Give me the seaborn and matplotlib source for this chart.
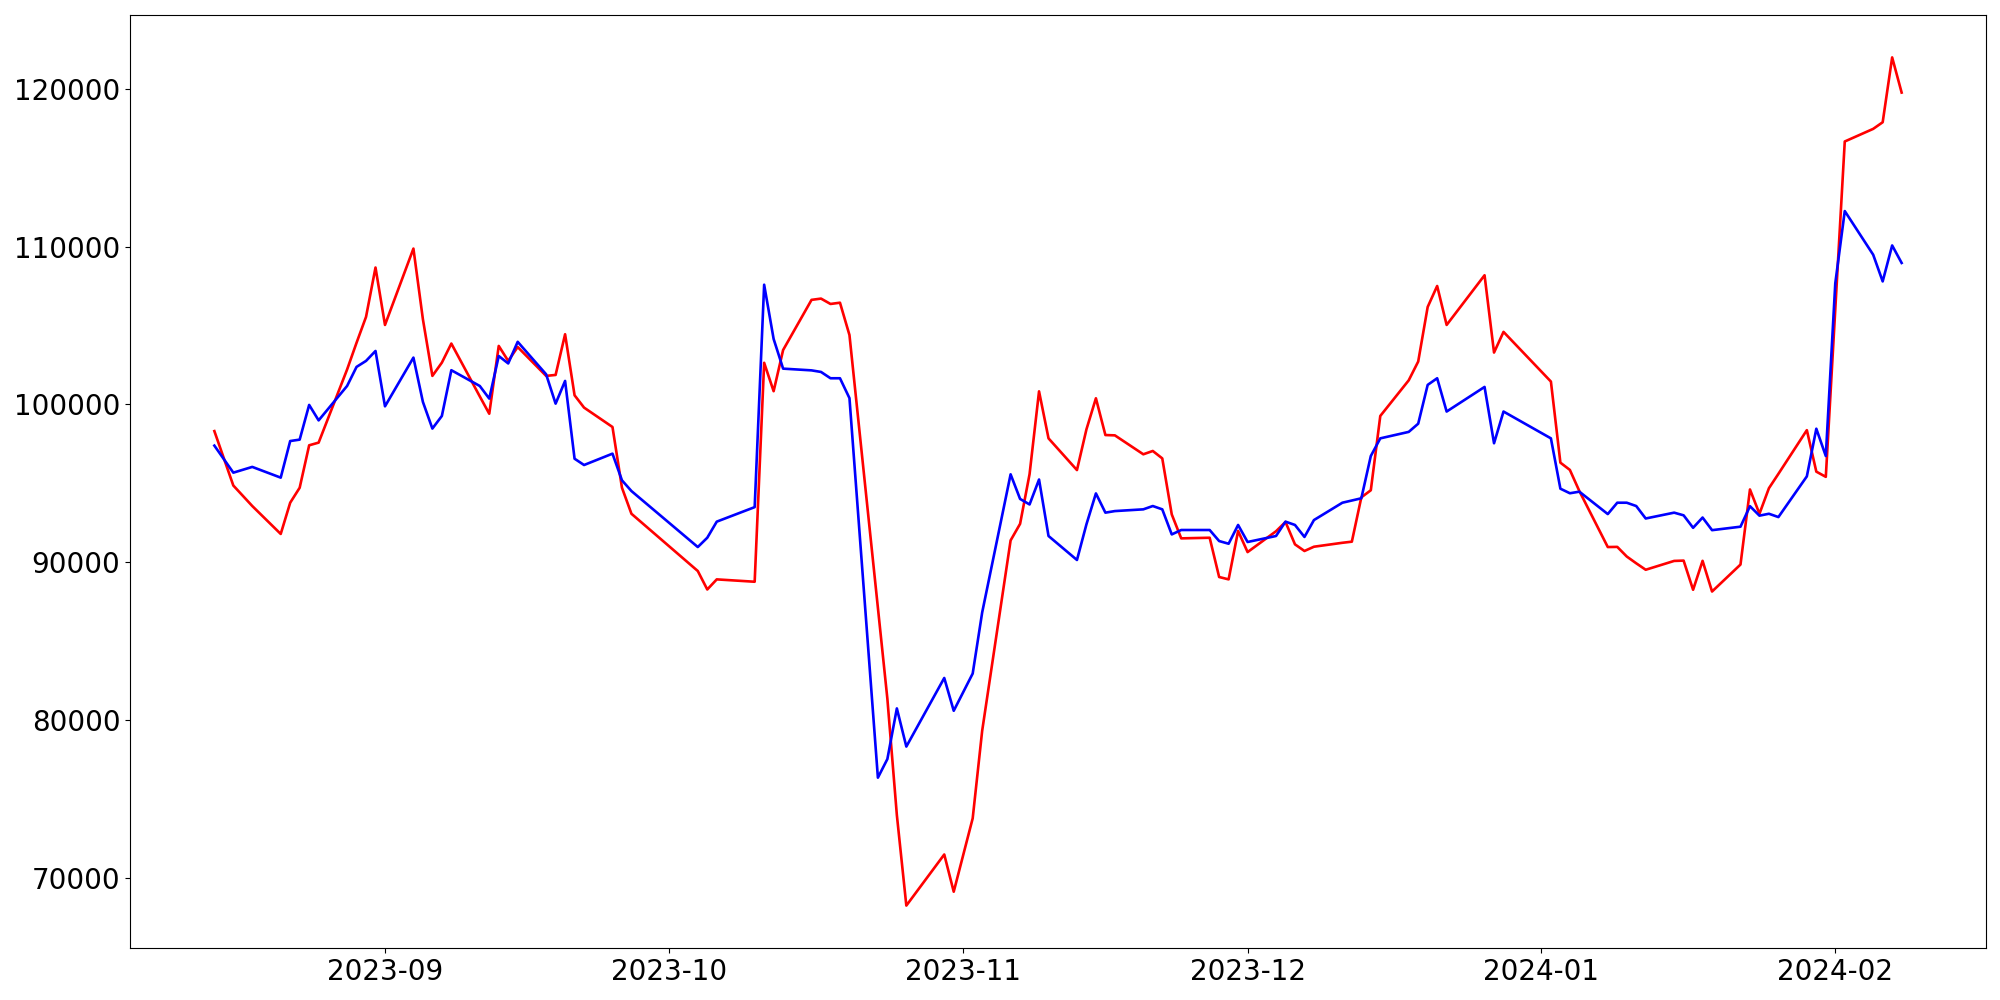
import matplotlib
matplotlib.use("Agg")
import matplotlib.pyplot as plt
import seaborn as sns
import pandas as pd

dates = [
    "2023-08-14", "2023-08-16", "2023-08-18", "2023-08-21", "2023-08-22", "2023-08-23",
    "2023-08-24", "2023-08-25", "2023-08-28", "2023-08-29", "2023-08-30", "2023-08-31",
    "2023-09-01", "2023-09-04", "2023-09-05", "2023-09-06", "2023-09-07", "2023-09-08",
    "2023-09-11", "2023-09-12", "2023-09-13", "2023-09-14", "2023-09-15", "2023-09-18",
    "2023-09-19", "2023-09-20", "2023-09-21", "2023-09-22", "2023-09-25", "2023-09-26",
    "2023-09-27",
    "2023-10-04", "2023-10-05", "2023-10-06", "2023-10-10", "2023-10-11", "2023-10-12",
    "2023-10-13", "2023-10-16", "2023-10-17", "2023-10-18", "2023-10-19", "2023-10-20",
    "2023-10-23", "2023-10-24", "2023-10-25", "2023-10-26", "2023-10-30", "2023-10-31",
    "2023-11-02", "2023-11-03", "2023-11-06", "2023-11-07", "2023-11-08", "2023-11-09",
    "2023-11-10", "2023-11-13", "2023-11-14", "2023-11-15", "2023-11-16", "2023-11-17",
    "2023-11-20", "2023-11-21", "2023-11-22", "2023-11-23", "2023-11-24", "2023-11-27",
    "2023-11-28", "2023-11-29", "2023-11-30",
    "2023-12-01", "2023-12-04", "2023-12-05", "2023-12-06", "2023-12-07", "2023-12-08",
    "2023-12-11", "2023-12-12", "2023-12-13", "2023-12-14", "2023-12-15", "2023-12-18",
    "2023-12-19", "2023-12-20", "2023-12-21", "2023-12-22", "2023-12-26", "2023-12-27",
    "2023-12-28",
    "2024-01-02", "2024-01-03", "2024-01-04", "2024-01-05", "2024-01-08", "2024-01-09",
    "2024-01-10", "2024-01-11", "2024-01-12", "2024-01-15", "2024-01-16", "2024-01-17",
    "2024-01-18", "2024-01-19", "2024-01-22", "2024-01-23", "2024-01-24", "2024-01-25",
    "2024-01-26", "2024-01-29", "2024-01-30", "2024-01-31",
    "2024-02-01", "2024-02-02", "2024-02-05", "2024-02-06", "2024-02-07", "2024-02-08",
]

red_values = [
    98300, 94850, 93550, 91780, 93760, 94710, 97400, 97570, 102200, 103900, 105540, 108670,
    105030, 109870, 105390, 101800, 102640, 103850, 100500, 99400, 103700, 102750, 103630,
    101800, 101860, 104440, 100570, 99790, 98560, 94710, 93060,
    89430, 88260, 88900, 88750, 102630, 100830, 103440, 106620, 106700, 106360, 106440,
    104390, 87100, 81330, 73960, 68220, 71460, 69100,
    73750, 79300, 91370, 92420, 95570, 100820, 97840, 95830, 98410, 100380, 98050, 98030,
    96830, 97040, 96570, 93020, 91500, 91540, 89050, 88900, 91970,
    90630, 91950, 92540, 91120, 90700, 90970, 91220, 91290, 94100, 94550, 99260, 101520,
    102710, 106170, 107500, 105030, 108180, 103280, 104590,
    101440, 96300, 95840, 94500, 90950, 90960, 90350, 89920, 89510, 90070, 90090, 88240,
    90075, 88130, 89840, 94600, 93060, 94680, 95590, 98360, 95730, 95400,
    106030, 116660, 117460, 117880, 121990, 119760,
]

blue_values = [
    97380, 95665, 96030, 95350, 97670, 97760, 99960, 98980, 101160, 102370, 102750, 103380,
    99870, 102960, 100150, 98460, 99260, 102160, 101160, 100360, 103060, 102590, 103960,
    101900, 100040, 101480, 96550, 96150, 96870, 95180, 94500,
    90950, 91540, 92560, 93480, 107580, 104140, 102260, 102150, 102050, 101650, 101650,
    100390, 76330, 77510, 80720, 78300, 82650, 80570,
    82930, 86800, 95560, 94000, 93650, 95230, 91650, 90130, 92390, 94350, 93130, 93230,
    93340, 93550, 93340, 91750, 92030, 92030, 91330, 91160, 92350,
    91270, 91650, 92560, 92350, 91590, 92660, 93760, 93900, 94040, 96720, 97840, 98250,
    98770, 101230, 101650, 99540, 101100, 97530, 99540,
    97840, 94650, 94360, 94460, 93040, 93760, 93760, 93550, 92760, 93130, 92960, 92170,
    92820, 92020, 92240, 93540, 92940, 93060, 92850, 95430, 98450, 96720,
    107670, 112250, 109480, 107790, 110070, 108960,
]

df = pd.DataFrame({
    "date": pd.to_datetime(dates),
    "red": red_values,
    "blue": blue_values,
})

fig, ax = plt.subplots(figsize=(20, 10), dpi=100)
sns.lineplot(data=df, x="date", y="red", color="red", linewidth=1.9, ax=ax)
sns.lineplot(data=df, x="date", y="blue", color="blue", linewidth=1.9, ax=ax)
ax.set_xlabel("")
ax.set_ylabel("")
ax.tick_params(axis="both", labelsize=20)
fig.subplots_adjust(left=0.065, right=0.993, bottom=0.052, top=0.985)
fig.savefig("out.png", dpi=100)
